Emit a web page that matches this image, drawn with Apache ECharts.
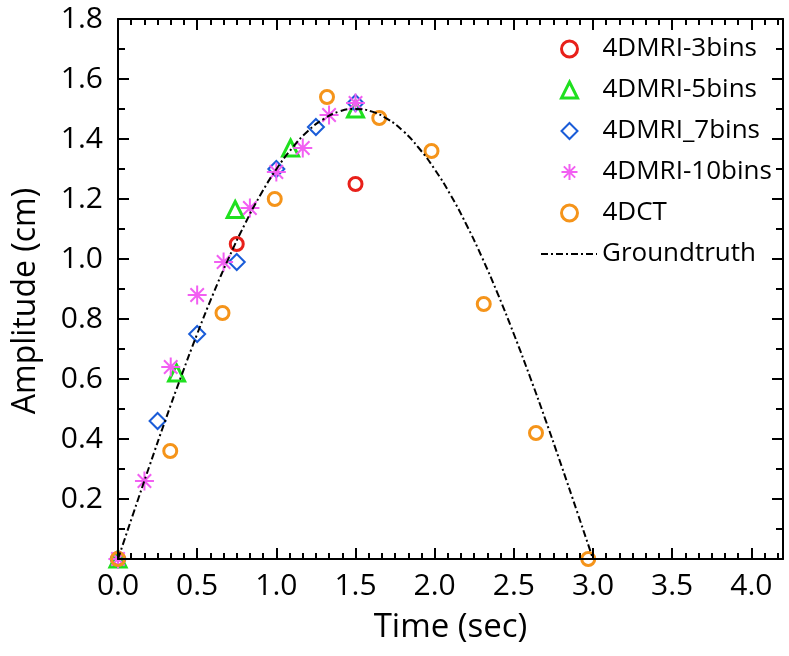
<!DOCTYPE html>
<html><head><meta charset="utf-8">
<script src="https://cdn.jsdelivr.net/npm/echarts@6/dist/echarts.min.js"></script>
<style>html,body{margin:0;padding:0;background:#fff}#c{width:789px;height:656px}</style>
</head><body><div id="c"></div>
<script>
// ---- data ----
const seriesNames = ['4DMRI-3bins', '4DMRI-5bins', '4DMRI_7bins', '4DMRI-10bins', '4DCT', 'Groundtruth'];

const t3 = [0, 0.75, 1.5];
const y3 = [0, 1.05, 1.25];

const t5 = [0, 0.37, 0.74, 1.09, 1.5];
const y5 = [0, 0.62, 1.165, 1.37, 1.5];

const t7 = [0, 0.25, 0.5, 0.75, 1.0, 1.25, 1.5];
const y7 = [0, 0.46, 0.75, 0.99, 1.30, 1.44, 1.52];

const t10 = [0, 0.167, 0.333, 0.5, 0.667, 0.833, 1.0, 1.167, 1.333, 1.5];
const y10 = [0, 0.26, 0.64, 0.88, 0.99, 1.17, 1.29, 1.37, 1.48, 1.52];

const tCT = [0, 0.33, 0.66, 0.99, 1.32, 1.65, 1.98, 2.31, 2.64, 2.97];
const yCT = [0, 0.36, 0.82, 1.20, 1.54, 1.47, 1.36, 0.85, 0.42, 0];

const tGT = [0, 0.1, 0.2, 0.3, 0.4, 0.5, 0.6, 0.7, 0.8, 0.9, 1.0, 1.1, 1.2, 1.3, 1.4, 1.5,
             1.6, 1.7, 1.8, 1.9, 2.0, 2.1, 2.2, 2.3, 2.4, 2.5, 2.6, 2.7, 2.8, 2.9, 3.0];
const yGT = [0, 0.157, 0.312, 0.464, 0.610, 0.750, 0.882, 1.004, 1.115, 1.214, 1.299, 1.370, 1.427, 1.467, 1.492, 1.500,
             1.492, 1.467, 1.427, 1.370, 1.299, 1.214, 1.115, 1.004, 0.882, 0.750, 0.610, 0.464, 0.312, 0.157, 0];

const xMin = 0, xMax = 4.2, xMajor = 0.5, xMinor = 0.5 / 6;
const yMin = 0, yMax = 1.8, yMajor = 0.2;

// ---- styling ----
const FONT = 'Open Sans';
const colors = ['#e8201a', '#1fe01f', '#1a5cd8', '#f25ff2', '#f5941a', '#000000'];
const borderWidths = [3, 3, 2, 2, 3];
const pair = (xs, ys) => xs.map((x, i) => [x, ys[i]]);
const ASTER = 'path://M0,-10L0,10M-10,0L10,0M-7.07,-7.07L7.07,7.07M-7.07,7.07L7.07,-7.07';

const axisLineStyle = { color: '#000', width: 2 };
function xAxisDef(pos, minor) {
  return {
    type: 'value', position: pos, min: xMin, max: xMax,
    interval: minor ? xMinor : xMajor,
    axisLine: { show: !minor, onZero: false, lineStyle: axisLineStyle },
    axisTick: { show: true, inside: true, length: minor ? 6 : 11, lineStyle: axisLineStyle },
    splitLine: { show: false },
    axisLabel: (pos === 'bottom' && !minor) ? {
      show: true, fontFamily: FONT, fontSize: 30, color: '#000', margin: 12,
      showMaxLabel: false,
      formatter: v => Math.abs(v / xMajor - Math.round(v / xMajor)) < 1e-6 ? v.toFixed(1) : ''
    } : { show: false },
    name: (pos === 'bottom' && !minor) ? 'Time (sec)' : '',
    nameLocation: 'middle', nameGap: 52,
    nameTextStyle: { fontFamily: FONT, fontSize: 33, color: '#000' },
    z: 10
  };
}
function yAxisDef(pos) {
  const main = pos === 'left';
  return {
    type: 'value', position: pos, min: yMin, max: yMax, interval: yMajor,
    axisLine: { show: true, onZero: false, lineStyle: axisLineStyle },
    axisTick: { show: true, inside: true, length: 11, lineStyle: axisLineStyle },
    minorTick: { show: true, splitNumber: 2, length: 7, lineStyle: axisLineStyle },
    splitLine: { show: false },
    axisLabel: main ? {
      show: true, fontFamily: FONT, fontSize: 30, color: '#000', margin: 15,
      formatter: v => v === 0 ? '' : v.toFixed(1)
    } : { show: false },
    name: main ? 'Amplitude (cm)' : '',
    nameLocation: 'middle', nameGap: 76,
    nameTextStyle: { fontFamily: FONT, fontSize: 32, color: '#000', padding: [0, 24, 0, 0] },
    z: 10
  };
}

const hollow = (c, w) => ({ color: 'rgba(255,255,255,0)', borderColor: c, borderWidth: w, opacity: 1 });
const legendText = { fontFamily: FONT, fontSize: 26, color: '#000', lineHeight: 26 };

const option = {
  backgroundColor: '#fff',
  animation: false,
  grid: { left: 118, right: 6, top: 19, bottom: 97, containLabel: false, outerBoundsMode: 'none' },
  legend: [
    {
      orient: 'vertical', left: 560, top: 36, padding: 0,
      itemWidth: 16, itemHeight: 16, itemGap: 15, symbolKeepAspect: true,
      textStyle: Object.assign({ padding: [0, 0, 0, 20] }, legendText),
      data: seriesNames.slice(0, 5).map((n, i) => ({
        name: n, itemStyle: { borderWidth: borderWidths[i], borderColor: colors[i] }
      }))
    },
    {
      orient: 'vertical', left: 540, top: 241, padding: 0,
      itemWidth: 56, itemHeight: 16,
      textStyle: legendText,
      data: [{ name: seriesNames[5], itemStyle: { opacity: 0 } }]
    }
  ],
  xAxis: [xAxisDef('bottom', false), xAxisDef('bottom', true), xAxisDef('top', false), xAxisDef('top', true)],
  yAxis: [yAxisDef('left'), yAxisDef('right')],
  series: [
    { name: seriesNames[0], type: 'scatter', data: pair(t3, y3), symbol: 'circle', symbolSize: 13,
      symbolKeepAspect: true, itemStyle: hollow(colors[0], borderWidths[0]) },
    { name: seriesNames[1], type: 'scatter', data: pair(t5, y5), symbol: 'triangle', symbolSize: 16,
      symbolKeepAspect: true, itemStyle: hollow(colors[1], borderWidths[1]) },
    { name: seriesNames[2], type: 'scatter', data: pair(t7, y7), symbol: 'diamond', symbolSize: 16,
      symbolKeepAspect: true, itemStyle: hollow(colors[2], borderWidths[2]) },
    { name: seriesNames[3], type: 'scatter', data: pair(t10, y10), symbol: ASTER, symbolSize: 19,
      symbolKeepAspect: true, itemStyle: hollow(colors[3], borderWidths[3]) },
    { name: seriesNames[4], type: 'scatter', data: pair(tCT, yCT), symbol: 'circle', symbolSize: 13,
      symbolKeepAspect: true, itemStyle: hollow(colors[4], borderWidths[4]) },
    { name: seriesNames[5], type: 'line', data: pair(tGT, yGT), symbol: 'none', smooth: true,
      itemStyle: { color: '#000' },
      lineStyle: { color: '#000', width: 2, type: [7, 3, 2, 3] } }
  ]
};

const chart = echarts.init(document.getElementById('c'), null, { renderer: 'canvas' });
chart.setOption(option);
</script></body></html>
